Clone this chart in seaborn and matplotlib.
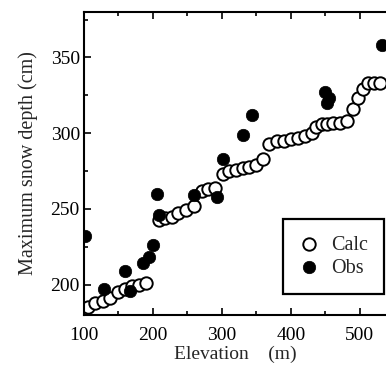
import matplotlib
matplotlib.use("Agg")
import matplotlib.pyplot as plt
import seaborn as sns
import pandas as pd
from matplotlib.ticker import MultipleLocator

# --- data ---
calc_elev = [106, 116, 127, 138, 149, 159, 170, 180, 190,
             209, 217, 227, 236, 248, 259,
             271, 280, 290,
             301, 311, 321, 330, 340, 349, 359,
             369, 380, 390, 400, 410, 420, 430,
             437, 445, 453, 461, 471, 481,
             490, 497, 504, 512, 520, 530]
calc_depth = [185, 188, 189, 191, 195, 197, 199, 200, 201,
              243, 244, 245, 247, 249, 252,
              262, 263, 264,
              273, 275, 276, 277, 278, 279, 283,
              293, 295, 295, 296, 297, 298, 300,
              304, 306, 306, 307, 307, 308,
              316, 323, 329, 333, 333, 333]

obs_elev = [102, 129, 159, 166, 186, 194, 200, 206, 209,
            259, 293, 301, 330, 343, 450, 455, 452, 532]
obs_depth = [232, 197, 209, 196, 214, 218, 226, 260, 246,
             259, 258, 283, 299, 312, 327, 323, 320, 358]

calc_df = pd.DataFrame({"elev": calc_elev, "depth": calc_depth})
obs_df = pd.DataFrame({"elev": obs_elev, "depth": obs_depth})

sns.set_theme(style="ticks")
plt.rcParams['font.family'] = ['Liberation Serif', 'DejaVu Serif']

fig = plt.figure(figsize=(3.86, 3.67), dpi=100)
ax = fig.add_axes([84 / 386, 52 / 367, 302 / 386, 303 / 367])

sns.scatterplot(data=calc_df, x="elev", y="depth", ax=ax, marker="o", s=80,
                facecolor="white", edgecolor="black", linewidth=1.4, label="Calc", zorder=2)
sns.scatterplot(data=obs_df, x="elev", y="depth", ax=ax, marker="o", s=80,
                color="black", edgecolor="black", linewidth=0.5, label="Obs", zorder=3)

ax.set_xlim(100, 538)
ax.set_ylim(180, 380)
ax.xaxis.set_major_locator(MultipleLocator(100))
ax.xaxis.set_minor_locator(MultipleLocator(50))
ax.yaxis.set_major_locator(MultipleLocator(50))
ax.yaxis.set_minor_locator(MultipleLocator(25))
ax.set_yticks([200, 250, 300, 350])
ax.tick_params(axis="both", which="both", direction="in", top=True, right=False,
               labelsize=14, colors="black", width=1.2)
ax.tick_params(axis="x", which="major", pad=9)
ax.tick_params(axis="y", which="major", pad=3)
ax.tick_params(which="major", length=5)
ax.tick_params(which="minor", length=3)
for side in ["left", "bottom", "top"]:
    ax.spines[side].set_linewidth(1.5)
    ax.spines[side].set_color("black")
ax.spines["right"].set_visible(False)

ax.set_xlabel("Elevation    (m)", fontsize=14, labelpad=1)
ax.set_ylabel("Maximum snow depth (cm)", fontsize=14.5, labelpad=9)

leg = ax.legend(loc="lower right", bbox_to_anchor=(0.995, 0.07), fontsize=14.5,
                frameon=True, fancybox=False, edgecolor="black", framealpha=1,
                handletextpad=0.6, borderpad=0.8, labelspacing=0.2, handlelength=1.0,
                borderaxespad=0)
leg.get_frame().set_linewidth(1.6)

fig.savefig("out.png", dpi=100)
